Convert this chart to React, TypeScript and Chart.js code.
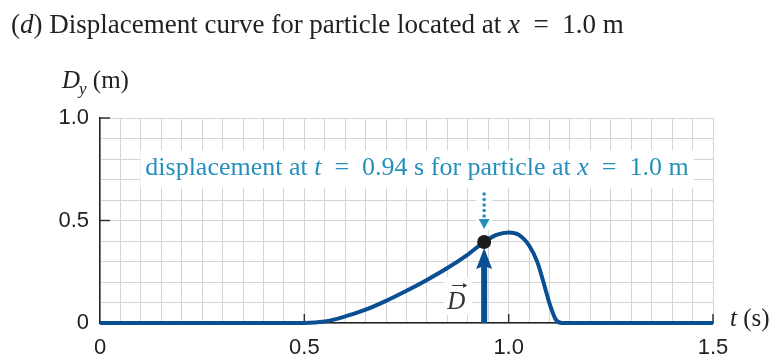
import React, { useEffect, useRef } from "react";
import { Chart, registerables } from "chart.js";

Chart.register(...registerables);

// ---- data ----
const timeValues = [0, 0.5, 0.55, 0.6, 0.65, 0.7, 0.75, 0.8, 0.85, 0.9, 0.94, 0.97, 1.0, 1.025, 1.05, 1.07, 1.085, 1.1, 1.115, 1.13, 1.5];
const displacementValues = [0, 0, 0.007, 0.032, 0.065, 0.108, 0.157, 0.21, 0.268, 0.334, 0.395, 0.43, 0.442, 0.43, 0.378, 0.298, 0.2, 0.095, 0.018, 0, 0];

const markerTime = 0.94;
const markerDisplacement = 0.395;
const arrowTipDisplacement = 0.366;

const xLabelledTicks = [0, 0.5, 1.0, 1.5];
const xTickLabels = ["0", "0.5", "1.0", "1.5"];
const yLabelledTicks = [0, 0.5, 1.0];
const yTickLabels = ["0", "0.5", "1.0"];

const titleRuns = [
  { t: "(", i: false },
  { t: "d", i: true },
  { t: ") Displacement curve for particle located at ", i: false },
  { t: "x", i: true },
  { t: "\u2002=\u20021.0 m", i: false },
];
const annotationRuns = [
  { t: "displacement at ", i: false },
  { t: "t", i: true },
  { t: "\u2002=\u20020.94 s for particle at ", i: false },
  { t: "x", i: true },
  { t: "\u2002=\u20021.0 m", i: false },
];

const SERIF = '"Liberation Serif", "DejaVu Serif", serif';
const SANS = '"Liberation Sans", Arial, sans-serif';
const CURVE = "#0b4f93";
const TEAL = "#2690bd";
const INK = "#222222";

type Run = { t: string; i: boolean };

function runsWidth(ctx: CanvasRenderingContext2D, runs: Run[], size: number) {
  let w = 0;
  for (const r of runs) {
    ctx.font = `${r.i ? "italic " : ""}${size}px ${SERIF}`;
    w += ctx.measureText(r.t).width;
  }
  return w;
}

function drawRuns(ctx: CanvasRenderingContext2D, runs: Run[], x: number, y: number, size: number, color: string) {
  ctx.fillStyle = color;
  ctx.textBaseline = "alphabetic";
  ctx.textAlign = "left";
  let cx = x;
  for (const r of runs) {
    ctx.font = `${r.i ? "italic " : ""}${size}px ${SERIF}`;
    ctx.fillText(r.t, cx, y);
    cx += ctx.measureText(r.t).width;
  }
  return cx;
}

function labelFor(v: number, ticks: number[], labels: string[]) {
  const idx = ticks.findIndex((t) => Math.abs(t - v) < 1e-6);
  return idx >= 0 ? labels[idx] : "";
}

const overlayPlugin = {
  id: "overlay",
  beforeDatasetsDraw(chart: any) {
    const ctx: CanvasRenderingContext2D = chart.ctx;
    const xs = chart.scales.x;
    const ys = chart.scales.y;
    const area = chart.chartArea;
    ctx.save();

    // inner tick marks on the axes
    ctx.strokeStyle = "#333";
    ctx.lineWidth = 1.5;
    for (const v of yLabelledTicks.slice(1)) {
      const py = ys.getPixelForValue(v);
      ctx.beginPath();
      ctx.moveTo(area.left, py);
      ctx.lineTo(area.left + 10, py);
      ctx.stroke();
    }
    for (const v of xLabelledTicks.slice(1)) {
      const px = xs.getPixelForValue(v);
      ctx.beginPath();
      ctx.moveTo(px, area.bottom);
      ctx.lineTo(px, area.bottom - 9);
      ctx.stroke();
    }

    const px = xs.getPixelForValue(markerTime);
    const py0 = ys.getPixelForValue(0);
    const pyMark = ys.getPixelForValue(markerDisplacement);
    const pyTip = ys.getPixelForValue(arrowTipDisplacement);

    // annotation text with white box
    const size = 26;
    const w = runsWidth(ctx, annotationRuns, size);
    const cx = 417;
    const sx = cx - w / 2;
    ctx.fillStyle = "#fff";
    ctx.fillRect(sx - 5, 150, w + 10, 38);
    drawRuns(ctx, annotationRuns, sx, 175, size, TEAL);

    // dotted teal arrow
    const tip = pyMark - 13;
    ctx.fillStyle = "#fff";
    ctx.fillRect(px - 8, 188, 16, tip - 188 + 1);
    ctx.fillStyle = TEAL;
    ctx.beginPath();
    ctx.moveTo(px, tip);
    ctx.lineTo(px - 5.5, tip - 10);
    ctx.lineTo(px + 5.5, tip - 10);
    ctx.closePath();
    ctx.fill();
    for (let k = 0; k < 5; k++) {
      ctx.beginPath();
      ctx.arc(px, tip - 13 - k * 5.5, 1.8, 0, Math.PI * 2);
      ctx.fill();
    }

    // D vector label
    const bx = px - 40;
    ctx.fillStyle = "#fff";
    ctx.fillRect(bx, 277, 28, 38);
    ctx.fillStyle = "#333";
    ctx.font = `italic 25px ${SERIF}`;
    ctx.textBaseline = "alphabetic";
    ctx.fillText("D", bx + 3, 309);
    ctx.strokeStyle = "#333";
    ctx.lineWidth = 1;
    ctx.beginPath();
    ctx.moveTo(bx + 8, 285.5);
    ctx.lineTo(bx + 22, 285.5);
    ctx.stroke();
    ctx.beginPath();
    ctx.moveTo(bx + 23, 285.5);
    ctx.lineTo(bx + 19, 283);
    ctx.lineTo(bx + 19, 288);
    ctx.closePath();
    ctx.fillStyle = "#333";
    ctx.fill();

    // thick blue displacement arrow
    ctx.fillStyle = CURVE;
    ctx.fillRect(px - 3, pyTip + 18, 6, py0 - pyTip - 18);
    ctx.beginPath();
    ctx.moveTo(px, pyTip);
    ctx.lineTo(px - 8, pyTip + 21);
    ctx.lineTo(px, pyTip + 18);
    ctx.lineTo(px + 8, pyTip + 21);
    ctx.closePath();
    ctx.fill();

    ctx.restore();
  },
  afterDraw(chart: any) {
    const ctx: CanvasRenderingContext2D = chart.ctx;
    ctx.save();
    // title
    drawRuns(ctx, titleRuns, 11, 33, 27, INK);
    // y axis title D_y (m)
    let x = drawRuns(ctx, [{ t: "D", i: true }], 62, 88, 25, INK);
    x = drawRuns(ctx, [{ t: "y", i: true }], x - 1, 94, 17, INK);
    drawRuns(ctx, [{ t: " (m)", i: false }], x, 88, 25, INK);
    // x axis title t (s)
    drawRuns(ctx, [{ t: "t", i: true }, { t: " (s)", i: false }], 730, 326, 25, INK);
    ctx.restore();
  },
};

export default function App() {
  const canvasRef = useRef<HTMLCanvasElement | null>(null);

  useEffect(() => {
    if (!canvasRef.current) return;
    const curve = timeValues.map((t, i) => ({ x: t, y: displacementValues[i] }));
    const chart = new Chart(canvasRef.current, {
      type: "line",
      data: {
        datasets: [
          {
            label: "marker",
            data: [{ x: markerTime, y: markerDisplacement }],
            showLine: false,
            pointRadius: 7,
            pointBackgroundColor: "#1c1c1c",
            pointBorderWidth: 0,
            order: 0,
          },
          {
            label: "displacement",
            data: curve,
            borderColor: CURVE,
            borderWidth: 4,
            pointRadius: 0,
            cubicInterpolationMode: "monotone",
            fill: false,
            clip: false,
            order: 1,
          },
        ],
      },
      options: {
        animation: false,
        responsive: false,
        events: [],
        layout: { padding: { left: 0, right: 65, top: 118, bottom: 0 } },
        plugins: { legend: { display: false }, tooltip: { enabled: false }, title: { display: false } },
        scales: {
          x: {
            type: "linear",
            min: 0,
            max: 1.5,
            afterFit: (s: any) => {
              s.height = 37;
            },
            grid: { color: "#d4d4d4", lineWidth: 1, drawTicks: false },
            border: { display: true, color: "#222", width: 1.5 },
            ticks: {
              stepSize: 0.05,
              autoSkip: false,
              maxRotation: 0,
              padding: 12,
              color: INK,
              font: { family: SANS, size: 22 },
              callback: (v: any) => labelFor(Number(v), xLabelledTicks, xTickLabels),
            },
          },
          y: {
            type: "linear",
            min: 0,
            max: 1,
            afterFit: (s: any) => {
              s.width = 100;
            },
            grid: { color: "#d4d4d4", lineWidth: 1, drawTicks: false },
            border: { display: true, color: "#222", width: 1.5 },
            ticks: {
              stepSize: 0.1,
              autoSkip: false,
              padding: 11,
              color: INK,
              font: { family: SANS, size: 22 },
              callback: (v: any) => labelFor(Number(v), yLabelledTicks, yTickLabels),
            },
          },
        },
      },
      plugins: [overlayPlugin],
    });
    return () => chart.destroy();
  }, []);

  return (
    <div style={{ position: "fixed", left: 0, top: 0, width: 778, height: 360, background: "#fff" }}>
      <canvas ref={canvasRef} width={778} height={360} />
    </div>
  );
}
